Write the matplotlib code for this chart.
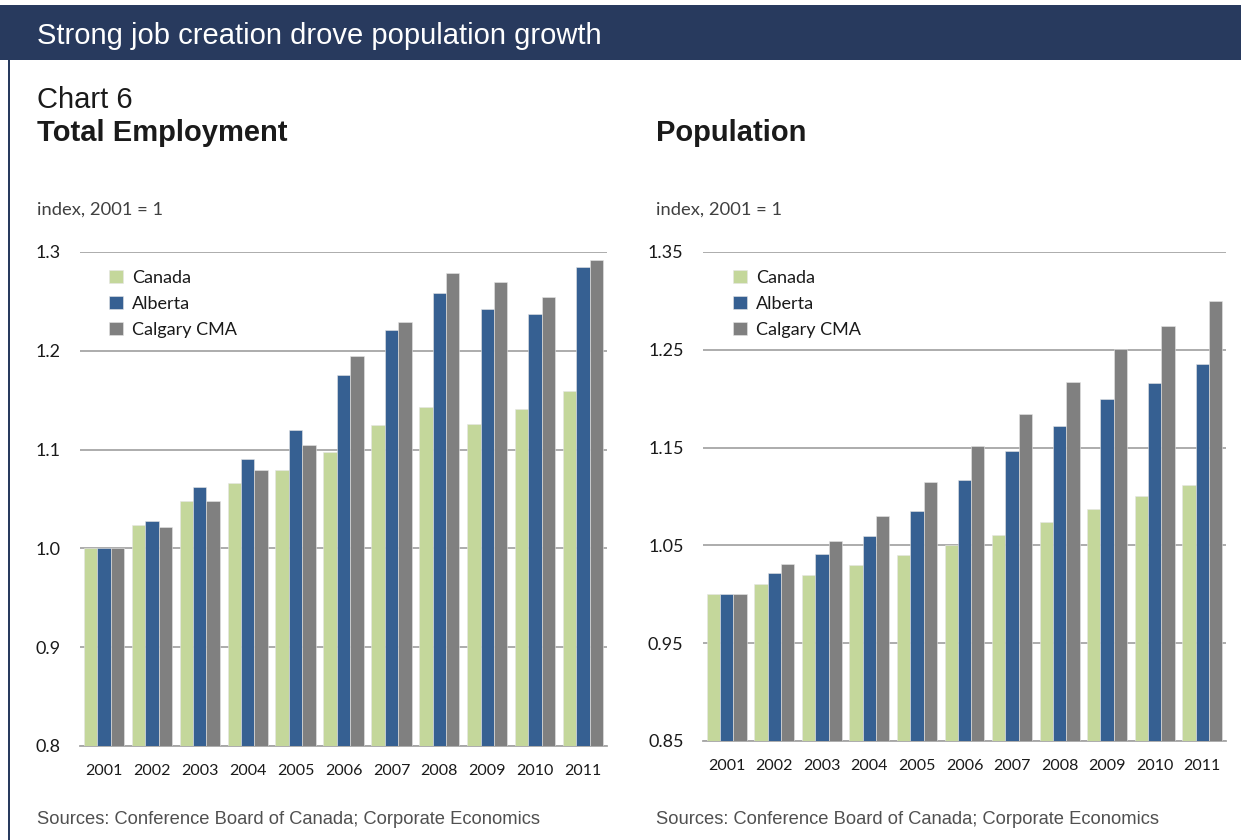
import numpy as np
import matplotlib
matplotlib.use("Agg")
import matplotlib.pyplot as plt
from matplotlib.patches import Rectangle

# --- data (index, 2001 = 1)
years = ["2001", "2002", "2003", "2004", "2005", "2006",
         "2007", "2008", "2009", "2010", "2011"]

emp_canada = [1.000, 1.024, 1.048, 1.066, 1.079, 1.098, 1.125, 1.143, 1.126, 1.141, 1.159]
emp_alberta = [1.000, 1.028, 1.062, 1.090, 1.120, 1.176, 1.221, 1.259, 1.242, 1.237, 1.285]
emp_calgary = [1.000, 1.022, 1.048, 1.079, 1.105, 1.195, 1.229, 1.279, 1.270, 1.254, 1.292]

pop_canada = [1.000, 1.011, 1.020, 1.030, 1.040, 1.050, 1.061, 1.074, 1.087, 1.100, 1.112]
pop_alberta = [1.000, 1.022, 1.041, 1.060, 1.085, 1.117, 1.147, 1.172, 1.200, 1.216, 1.235]
pop_calgary = [1.000, 1.031, 1.054, 1.080, 1.115, 1.152, 1.184, 1.217, 1.251, 1.274, 1.300]

series_names = ["Canada", "Alberta", "Calgary CMA"]
COLORS = ["#c4d79b", "#366092", "#808080"]
NAVY = "#283a5e"
GRID = "#a6a6a6"
TICK_FONT = "Lato"
TEXT_FONT = "Liberation Sans"

W, H = 1241, 840
fig = plt.figure(figsize=(W / 100, H / 100), dpi=100)
fig.patch.set_facecolor("white")


def px(x, y):
    """pixel position (from top-left) -> figure fraction"""
    return x / W, 1 - y / H


# --- header band and left rule
fig.add_artist(Rectangle(px(0, 60), 1, 55 / H, transform=fig.transFigure,
                         facecolor=NAVY, edgecolor="none"))
fig.add_artist(Rectangle(px(8, 840), 2 / W, 780 / H, transform=fig.transFigure,
                         facecolor=NAVY, edgecolor="none"))
fig.text(*px(37, 44), "Strong job creation drove population growth",
         color="white", fontsize=21, family=TEXT_FONT, va="baseline")

fig.text(*px(37, 108), "Chart 6", fontsize=21, family=TEXT_FONT, va="baseline",
         color="#1a1a1a")
fig.text(*px(37, 141), "Total Employment", fontsize=21, family=TEXT_FONT,
         weight="bold", va="baseline", color="#1a1a1a")
fig.text(*px(656, 141), "Population", fontsize=21, family=TEXT_FONT,
         weight="bold", va="baseline", color="#1a1a1a")

for xl in (37, 656):
    fig.text(*px(xl, 215), "index, 2001 = 1", fontsize=13.2, family=TICK_FONT,
             va="baseline", color="#404040")
    fig.text(*px(xl, 824), "Sources: Conference Board of Canada; Corporate Economics",
             fontsize=13.2, family=TEXT_FONT, va="baseline", color="#505050")


def bar_panel(rect, canada, alberta, calgary, ylim, yticks, yfmt, leg_xy):
    ax = fig.add_axes(rect)
    x = np.arange(len(years))
    w = 0.28
    for i, (vals, name) in enumerate(zip([canada, alberta, calgary], series_names)):
        ax.bar(x + (i - 1) * w, np.array(vals) - ylim[0], bottom=ylim[0], width=w,
               color=COLORS[i], edgecolor="#e6e6e6", linewidth=0.4, label=name,
               zorder=3)
    ax.set_xlim(-0.5, len(years) - 0.5)
    ax.set_ylim(*ylim)
    ax.set_yticks(yticks)
    ax.set_yticklabels([yfmt.format(t) for t in yticks])
    ax.set_xticks(x)
    ax.set_xticklabels(years)
    ax.yaxis.grid(True, color=GRID, linewidth=1.3, zorder=0)
    for side in ("top", "right", "left"):
        ax.spines[side].set_visible(False)
    ax.spines["bottom"].set_color(GRID)
    ax.spines["bottom"].set_linewidth(1.3)
    ax.tick_params(axis="both", length=0, colors="#1a1a1a")
    ax.tick_params(axis="y", pad=14, labelsize=13)
    ax.tick_params(axis="x", pad=13, labelsize=11.5)
    for lab in ax.get_xticklabels() + ax.get_yticklabels():
        lab.set_family(TICK_FONT)
    leg = ax.legend(loc="upper left", bbox_to_anchor=leg_xy, frameon=False,
                    handlelength=0.75, handleheight=0.75, handletextpad=0.5,
                    labelspacing=0.55, borderaxespad=0,
                    prop={"family": TICK_FONT, "size": 13})
    for t in leg.get_texts():
        t.set_color("#1a1a1a")
    return ax


bar_panel([80 / W, (H - 746) / H, 527 / W, 494 / H],
          emp_canada, emp_alberta, emp_calgary,
          (0.8, 1.3), [0.8, 0.9, 1.0, 1.1, 1.2, 1.3], "{:.1f}", (0.042, 0.978))
bar_panel([703 / W, (H - 741) / H, 523 / W, 489 / H],
          pop_canada, pop_alberta, pop_calgary,
          (0.85, 1.35), [0.85, 0.95, 1.05, 1.15, 1.25, 1.35], "{:.2f}", (0.044, 0.978))

fig.savefig("out.png", dpi=100)
